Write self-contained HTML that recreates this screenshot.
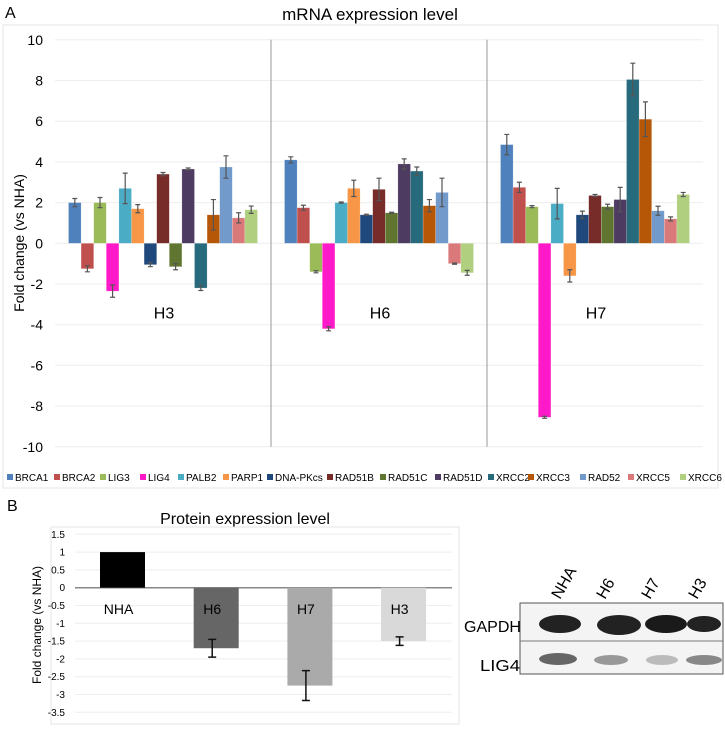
<!DOCTYPE html>
<html><head><meta charset="utf-8"><style>
body{margin:0;background:#fff;width:725px;height:725px;overflow:hidden;font-family:"Liberation Sans",sans-serif}
svg text{font-family:"Liberation Sans",sans-serif}
</style></head><body>
<svg id="s" width="725" height="725" viewBox="0 0 725 725">
<text x="5" y="18" font-size="16">A</text>
<text x="370" y="20" font-size="17" text-anchor="middle">mRNA expression level</text>
<rect x="3" y="25" width="715" height="463" fill="none" stroke="#e6e6e6"/>
<text transform="translate(24,243) rotate(-90)" font-size="14" text-anchor="middle">Fold change (vs NHA)</text>
<g id="ga"></g>
<text x="7" y="511" font-size="16">B</text>
<text x="245" y="524" font-size="16" text-anchor="middle">Protein expression level</text>
<rect x="51" y="527" width="408" height="197" fill="none" stroke="#e6e6e6"/>
<text transform="translate(41,625) rotate(-90)" font-size="12" text-anchor="middle">Fold change (vs NHA)</text>
<g id="gb"></g>
<g>
<rect x="520" y="603" width="203" height="71" fill="#f4f4f4" stroke="#555"/>
<line x1="520" y1="641" x2="723" y2="641" stroke="#777"/>
<ellipse cx="560" cy="624" rx="21" ry="9" fill="#222"/>
<ellipse cx="619" cy="625" rx="22" ry="10" fill="#222"/>
<ellipse cx="666" cy="624" rx="21" ry="9" fill="#1a1a1a"/>
<ellipse cx="704" cy="624" rx="17" ry="8" fill="#222"/>
<ellipse cx="558" cy="659" rx="19" ry="6" fill="#666"/>
<ellipse cx="611" cy="660" rx="17" ry="5" fill="#999"/>
<ellipse cx="662" cy="660" rx="16" ry="5" fill="#bbb"/>
<ellipse cx="704" cy="660" rx="18" ry="5" fill="#888"/>
<text x="464" y="632" font-size="16" textLength="57" lengthAdjust="spacingAndGlyphs">GAPDH</text>
<text x="480" y="671" font-size="16" textLength="40" lengthAdjust="spacingAndGlyphs">LIG4</text>
<text transform="translate(560,600) rotate(-60)" font-size="16">NHA</text>
<text transform="translate(605,600) rotate(-60)" font-size="16">H6</text>
<text transform="translate(650,600) rotate(-60)" font-size="16">H7</text>
<text transform="translate(697,600) rotate(-60)" font-size="16">H3</text>
</g>
</svg>
<script>
const genes=["BRCA1","BRCA2","LIG3","LIG4","PALB2","PARP1","DNA-PKcs","RAD51B","RAD51C","RAD51D","XRCC2","XRCC3","RAD52","XRCC5","XRCC6"];
const groups=["H3","H6","H7"];
const valH3=[2.0,-1.25,2.0,-2.35,2.7,1.7,-1.05,3.4,-1.15,3.65,-2.2,1.4,3.75,1.25,1.65];
const errH3=[0.2,0.15,0.25,0.3,0.75,0.2,0.1,0.08,0.15,0.05,0.12,0.75,0.55,0.25,0.18];
const valH6=[4.1,1.75,-1.4,-4.2,2.0,2.7,1.4,2.65,1.5,3.9,3.55,1.85,2.5,-1.0,-1.45];
const errH6=[0.15,0.12,0.05,0.1,0.03,0.4,0.03,0.55,0.03,0.25,0.2,0.3,0.7,0.03,0.12];
const valH7=[4.85,2.75,1.8,-8.55,1.95,-1.6,1.4,2.35,1.8,2.15,8.05,6.1,1.6,1.2,2.4];
const errH7=[0.5,0.25,0.05,0.05,0.75,0.3,0.18,0.05,0.12,0.6,0.8,0.85,0.22,0.1,0.1];
const ticksA=[10,8,6,4,2,0,-2,-4,-6,-8,-10];
const samples=["NHA","H6","H7","H3"];
const protVal=[1.0,-1.7,-2.75,-1.5];
const protErr=[0,0.25,0.42,0.12];
const ticksB=[1.5,1,0.5,0,-0.5,-1,-1.5,-2,-2.5,-3,-3.5];
const colors=["#4f81bd","#c0504d","#9bbb59","#ff19c8","#4bacc6","#f79646","#1f497d","#772c2a","#5f7530","#4d3b62","#276a7c","#b65708","#729aca","#d9797a","#b0cf7f"];
const NS="http://www.w3.org/2000/svg";
function mk(p,t,a){const e=document.createElementNS(NS,t);for(const k in a)e.setAttribute(k,a[k]);p.appendChild(e);return e;}
const ga=document.getElementById('ga');
const yA=v=>243.3-v*20.35;
const x0=55,gw=216,bw=12.6;
ticksA.forEach(t=>{
 const l=mk(ga,'line',{x1:x0,x2:x0+3*gw,y1:yA(t),y2:yA(t),stroke:'#eeeeee'});
 
 
 const tx=mk(ga,'text',{x:43,y:yA(t)+5,'font-size':14,'text-anchor':'end'});tx.textContent=t;
 
 
});
[1,2].forEach(i=>{const l=mk(ga,'line',{x1:x0+gw*i,x2:x0+gw*i,y1:yA(10),y2:yA(-10),stroke:'#999'});
 
 });
const vals=[valH3,valH6,valH7],errs=[errH3,errH6,errH7];
groups.forEach((g,gi)=>{
 vals[gi].forEach((v,i)=>{
  const x=x0+gw*gi+(gw-bw*genes.length)/2+i*bw;
  const r=mk(ga,'rect',{x:x,y:Math.min(yA(v),yA(0)),width:bw,height:Math.abs(yA(v)-yA(0)),fill:colors[i],stroke:'#fff','stroke-opacity':0.4,'stroke-width':0.5});
  
  
  const e=errs[gi][i],cx=x+bw/2;
  const eb=mk(ga,'path',{d:`M${cx},${yA(v+e)}V${yA(v-e)}M${cx-2.5},${yA(v+e)}h5M${cx-2.5},${yA(v-e)}h5`,stroke:'#555','stroke-width':1.2,fill:'none'});
  
  
 });
 const t=mk(ga,'text',{x:x0+gw*gi+gw/2+1,y:yA(-3.7),'font-size':16,'text-anchor':'middle'});t.textContent=g;
 
 
});
const legX=[7,54,100,140,178,223,267,327,380,435,488,528,580,628,680];
genes.forEach((g,i)=>{
 const r=mk(ga,'rect',{x:legX[i],y:474,width:6,height:6,fill:colors[i]});
 
 
 const t=mk(ga,'text',{x:legX[i]+8,y:481,'font-size':10});t.textContent=g;
 
 
});
const gb=document.getElementById('gb');
const yB=v=>587.7-v*35.6;
ticksB.forEach(t=>{
 const l=mk(gb,'line',{x1:75,x2:452,y1:yB(t),y2:yB(t),stroke:t===0?'#888':'#eeeeee','stroke-width':t===0?1.5:1});
 
 
 const tx=mk(gb,'text',{x:65,y:yB(t)+3.5,'font-size':10,'text-anchor':'end'});tx.textContent=t;
 
 
});
const pcol=["#000","#666","#aaa","#d9d9d9"];
samples.forEach((s,i)=>{
 const x=100+i*93.7,w=45,v=protVal[i];
 const r=mk(gb,'rect',{x:x,y:Math.min(yB(v),yB(0)),width:w,height:Math.abs(yB(v)-yB(0)),fill:pcol[i]});
 
 
 const e=protErr[i];
 if(e>0){const cx=x+w/2-4;
  const eb=mk(gb,'path',{d:`M${cx},${yB(v+e)}V${yB(v-e)}M${cx-4},${yB(v+e)}h8M${cx-4},${yB(v-e)}h8`,stroke:'#111','stroke-width':1.5,fill:'none'});
  
  }
 const t=mk(gb,'text',{x:x+w/2-4,y:614,'font-size':14,'text-anchor':'middle'});t.textContent=s;
 
 
});
</script>
</body></html>
